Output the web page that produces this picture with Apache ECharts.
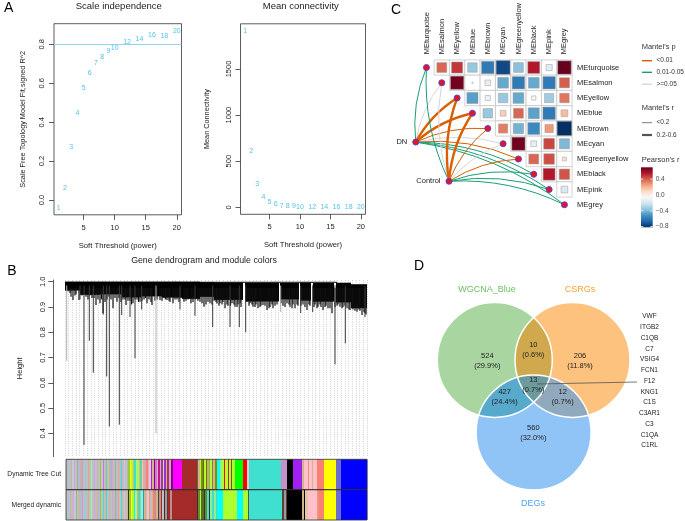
<!DOCTYPE html>
<html><head><meta charset="utf-8">
<script src="https://cdn.jsdelivr.net/npm/echarts@6/dist/echarts.min.js"></script>
<style>html,body{margin:0;padding:0;background:#fff}#c{width:685px;height:521px}</style>
</head><body><div id="c"></div>
<script>
// ---------------- DATA ----------------
// Panel A: soft-threshold analysis
const powers = [1,2,3,4,5,6,7,8,9,10,12,14,16,18,20];
const sftR2  = [-0.043,0.063,0.27,0.448,0.573,0.651,0.704,0.735,0.764,0.783,0.814,0.829,0.848,0.845,0.868];
const meanK  = [1914,615,250,109,58,30,18,12,8,6,3,2,1,0.7,0.5];
const r2Cutoff = 0.8;
const xTicksA = [5,10,15,20];
const yTicksR2 = [0,0.2,0.4,0.6,0.8];
const yTicksK = [0,500,1000,1500];

// Panel B: dendrogram (leaf index 0..302), heights
const dendroBlocks = [ // [fromLeaf, toLeaf, lowerHeight, upperHeight]
 [0,272,0.996,1.0],[0,15,0.965,1.0],[15,35,0.948,1.0],[35,57,0.95,1.0],[57,77,0.938,1.0],[77,97,0.942,1.0],
 [97,117,0.937,1.0],[117,135,0.932,1.0],[135,149,0.94,0.998],[149,178,0.928,0.997],[180,214,0.922,0.996],
 [215,234,0.93,0.995],[235,246,0.925,0.996],[248,269,0.921,0.995],[271,286,0.918,0.996],[286,302,0.895,0.99]];
const dendroStreaks = [ // [leaf, height]
 [1,0.965],[3,0.962],[5,0.955],[6,0.94],[8,0.928],[10,0.945],[11,0.95],[14,0.928],[17,0.945],[19.5,0.95],[21,0.94],[23,0.93],
 [25,0.945],[27,0.935],[29,0.935],[31,0.908],[33,0.93],[35,0.915],[36.5,0.93],[38,0.875],[40,0.92],[42,0.93],[44,0.94],
 [46,0.93],[48,0.895],[50,0.935],[52,0.921],[54,0.935],[56,0.92],[58,0.93],[60,0.93],[61,0.908],[63,0.925],[65,0.925],
 [66.5,0.91],[68,0.915],[70,0.93],[72,0.93],[73.5,0.92],[75,0.921],[77,0.925],[79,0.93],[80.5,0.935],[82,0.915],[84,0.93],
 [86,0.92],[87,0.908],[90,0.925],[92,0.93],[95,0.928],[97,0.925],[99,0.935],[100.5,0.93],[102,0.928],[104,0.925],[105,0.92],
 [108,0.915],[110,0.93],[112,0.93],[114,0.92],[116,0.935],[119,0.921],[121,0.925],[123,0.93],[126,0.915],[128,0.92],
 [130.5,0.93],[133,0.925],[135,0.921],[137,0.915],[139,0.901],[141,0.91],[143,0.921],[145,0.915],[147,0.91],[149,0.925],
 [151,0.92],[152,0.914],[154,0.905],[155,0.915],[157,0.91],[158,0.92],[160,0.895],[162,0.91],[163,0.905],[165.5,0.905],
 [167,0.915],[169,0.91],[170,0.901],[172,0.9],[173,0.91],[175,0.915],[176,0.9],[182,0.92],[184,0.905],[185,0.915],[187,0.91],
 [188,0.901],[190,0.9],[191,0.91],[193,0.895],[195,0.9],[196,0.905],[198,0.908],[200,0.905],[202,0.888],[204,0.895],[205,0.9],
 [207,0.91],[208,0.895],[210,0.905],[212,0.91],[216,0.915],[218,0.905],[220,0.9],[222,0.915],[224,0.91],[225,0.901],[227,0.895],
 [228,0.91],[230,0.895],[232,0.91],[233,0.905],[236,0.905],[238,0.91],[240,0.9],[242,0.888],[244,0.91],[245,0.905],[249,0.9],
 [250,0.91],[252,0.895],[253,0.901],[255,0.91],[256,0.9],[258,0.888],[260,0.9],[261,0.905],[263,0.895],[265,0.895],[267,0.875],
 [270,0.9],[272,0.905],[273,0.91],[275,0.901],[277,0.895],[278,0.9],[280,0.905],[282,0.895],[284,0.89],[285,0.888],[287,0.895],
 [288,0.89],[290,0.885],[292,0.881],[294,0.89],[295,0.885],[297,0.868],[299,0.88],[300,0.875],[301,0.87]];
const dendroSpikes = [ // [leaf, height, grey?]
 [1.7,0.687,1],[15,0.93,0],[19,0.354,0],[24.3,0.766,0],[28.3,0.64,0],[38.3,0.87,0],[41.7,0.625,0],[44.3,0.427,0],
 [54.3,0.434,0],[56.7,0.868,0],[65,0.86,0],[70,0.697,0],[76.7,0.89,0],[91,0.40,1],[115,0.89,0],[130,0.865,0],
 [147.7,0.82,0],[165,0.82,0],[174.3,0.82,0],[180.7,0.80,0],[215.7,0.88,1],[235.7,0.876,0],[247.7,0.88,0],
 [270,0.673,0],[280.3,0.756,0],[300,0.86,0]];
const dendroTicks = [0.4,0.5,0.6,0.7,0.8,0.9,1.0];
const colorRows = ['Dynamic Tree Cut','Merged dynamic'];
const dynamicColors = [
 [1,4,'#bebebe'],[4,6,'#b0c4de'],[6,7,'#d2b48c'],[7,9,'#c6c6dc'],[9,10,'#dda0dd'],[10,12,'#c0c0c0'],[12,13,'#8fbc8f'],[13,15,'#b8b8d0'],
 [15,16,'#d2b48c'],[16,18,'#c8a2c8'],[18,20,'#bebebe'],[20,21,'#87ceeb'],[21,23,'#c0c0c0'],[23,24,'#f4a460'],[24,26,'#b8b8d8'],
 [26,27,'#98fb98'],[27,29,'#bebebe'],[29,30,'#dda0dd'],[30,32,'#b0c4de'],[32,33,'#d2b48c'],[33,35,'#c0c0c0'],[35,36,'#9acd32'],
 [36,38,'#bfbfd8'],[38,39,'#da70d6'],[39,41,'#bebebe'],[41,42,'#66cdaa'],[42,44,'#c0c0c0'],[44,45,'#d2b48c'],[45,47,'#b0b0d0'],
 [47,48,'#dda0dd'],[48,50,'#bebebe'],[50,51,'#8fbc8f'],[51,53,'#c0c0c0'],[53,54,'#ffa07a'],[54,56,'#b8b8d8'],[56,57,'#40e0d0'],
 [57,59,'#bebebe'],[59,60,'#d8bfd8'],[60,62,'#b0c4de'],[62,63,'#d2b48c'],
 [63,65,'#9acd32'],[65,66,'#ffff00'],[66,68,'#adff2f'],[68,69,'#d2b48c'],[69,71,'#40e0d0'],[71,72,'#98fb98'],[72,74,'#adff2f'],
 [74,75,'#bebebe'],[75,77,'#66cdaa'],[77,78,'#ffc0cb'],[78,80,'#d2b48c'],[80,81,'#dda0dd'],[81,83,'#fa8072'],[83,84,'#c0c0c0'],
 [84,86,'#ffc0cb'],[86,87,'#a020f0'],[87,89,'#d2b48c'],[89,90,'#8b008b'],[90,92,'#da70d6'],[92,93,'#bebebe'],[93,95,'#c71585'],
 [95,96,'#dda0dd'],[96,98,'#8b4789'],[98,99,'#ffc0cb'],[99,101,'#9932cc'],[101,102,'#d2b48c'],[102,104,'#b03060'],[104,106,'#c8a2c8'],
 [106,108,'#8b008b'],[108,117,'#ff00ff'],[117,132,'#a52a2a'],
 [132,133,'#556b2f'],[133,135,'#d2b48c'],[135,136,'#adff2f'],[136,138,'#8b8b00'],[138,139,'#556b2f'],[139,141,'#adff2f'],
 [141,142,'#a0522d'],[142,144,'#9acd32'],[144,145,'#bc8f8f'],[145,147,'#adff2f'],[147,148,'#8b7d3a'],[148,150,'#d2b48c'],[150,152,'#8b8b00'],
 [152,155,'#00ffff'],[155,157,'#90ee90'],[157,159,'#adff2f'],[159,160,'#ff0000'],[160,163,'#adff2f'],[163,164,'#a52a2a'],
 [164,166,'#adff2f'],[166,167,'#8b4513'],[167,170,'#adff2f'],[170,178,'#00ff00'],[178,182,'#ff0000'],[182,184,'#d3d3d3'],
 [184,216,'#40e0d0'],[216,222,'#c890c8'],[222,228,'#000000'],[228,237,'#a020f0'],[237,239,'#d2b48c'],[239,243,'#ffc0cb'],
 [243,244,'#e9967a'],[244,247,'#ffc0cb'],[247,248,'#d2b48c'],[248,252,'#ffc0cb'],[252,259,'#fa8072'],[259,271,'#ffff00'],
 [271,276,'#6a6ad0'],[276,302,'#0000ff']];
const mergedColors = [
 [1,3,'#c0c0c0'],[3,5,'#b0c4de'],[5,6,'#d2b48c'],[6,8,'#bebebe'],[8,9,'#dda0dd'],[9,11,'#c6c6dc'],[11,12,'#8fbc8f'],[12,14,'#bebebe'],
 [14,15,'#d2b48c'],[15,17,'#b8b8d0'],[17,18,'#c8a2c8'],[18,20,'#c0c0c0'],[20,21,'#87ceeb'],[21,23,'#bebebe'],[23,24,'#f4a460'],
 [24,26,'#b0c4de'],[26,27,'#98fb98'],[27,29,'#c0c0c0'],[29,30,'#dda0dd'],[30,32,'#bebebe'],[32,33,'#d2b48c'],[33,35,'#b8b8d8'],
 [35,36,'#9acd32'],[36,38,'#c0c0c0'],[38,39,'#40e0d0'],[39,41,'#bebebe'],[41,42,'#66cdaa'],[42,44,'#b0c4de'],[44,45,'#d2b48c'],
 [45,47,'#c0c0c0'],[47,48,'#dda0dd'],[48,50,'#bebebe'],[50,51,'#8fbc8f'],[51,53,'#b8b8d0'],[53,54,'#ffa07a'],[54,56,'#c0c0c0'],
 [56,57,'#40e0d0'],[57,59,'#bebebe'],[59,60,'#d8bfd8'],[60,62,'#c0c0c0'],[62,63,'#d2b48c'],
 [63,64,'#333333'],[64,66,'#9acd32'],[66,67,'#ffff00'],[67,69,'#adff2f'],[69,70,'#40e0d0'],[70,72,'#98fb98'],[72,73,'#d2b48c'],
 [73,75,'#66cdaa'],[75,76,'#87ceeb'],[76,78,'#98fb98'],[78,79,'#1e90ff'],[79,81,'#d2b48c'],[81,82,'#bebebe'],[82,84,'#ffc0cb'],
 [84,85,'#e9967a'],[85,87,'#c0c0c0'],[87,88,'#d2b48c'],[88,90,'#fa8072'],[90,91,'#bc8f8f'],[91,93,'#d2b48c'],[93,94,'#444444'],
 [94,96,'#bc8f8f'],[96,97,'#a52a2a'],[97,99,'#c0c0c0'],[99,100,'#333333'],[100,102,'#bc8f8f'],[102,103,'#444444'],[103,105,'#a52a2a'],
 [105,107,'#bc8f8f'],[107,132,'#a52a2a'],
 [132,133,'#333333'],[133,135,'#6b8e23'],[135,136,'#adff2f'],[136,139,'#556b2f'],[139,140,'#333333'],[140,142,'#6b8e23'],
 [142,144,'#40e0d0'],[144,145,'#333333'],[145,147,'#90ee90'],[147,149,'#40e0d0'],[149,151,'#90ee90'],[151,152,'#66cdaa'],
 [152,158,'#00ffff'],[158,172,'#adff2f'],[172,178,'#00ffff'],[178,183,'#adff2f'],[183,184,'#555555'],[184,217,'#40e0d0'],
 [217,219,'#5c4033'],[219,221,'#999999'],[221,222,'#5c4033'],[222,237,'#000000'],[237,239,'#d2b48c'],[239,240,'#000000'],
 [240,243,'#e9c2a6'],[243,252,'#ffc0cb'],[252,254,'#e9967a'],[254,259,'#fa8072'],[259,271,'#ffff00'],[271,276,'#6a6ad0'],[276,302,'#0000ff']];

// Panel C: module eigengene correlations + Mantel tests
const modules = ['MEturquoise','MEsalmon','MEyellow','MEblue','MEbrown','MEcyan','MEgreenyellow','MEblack','MEpink','MEgrey'];
const pearsonR = [ // upper triangle, row i -> columns i+1..9
 [0.38,0.48,-0.35,-0.6,-0.75,-0.38,0.55,-0.15,0.7],
 [0.68,0.005,-0.12,-0.45,-0.6,-0.45,-0.6,0.4],
 [-0.48,-0.1,-0.35,-0.45,-0.07,-0.33,0.35],
 [-0.35,0.13,0.38,-0.47,-0.6,0.18],
 [0.33,-0.42,-0.55,0.27,-0.82],
 [0.68,-0.13,0.45,-0.4],
 [0.38,0.43,0.06],
 [0.55,0.42],
 [-0.18]];
const mantelEnv = ['DN','Control'];
// p class: 'a' <0.01, 'b' 0.01-0.05, 'c' >=0.05 ; r class: 's' <0.2, 'l' 0.2-0.6
const mantelP = {
 DN:      ['b','c','a','a','a','c','a','b','b','b'],
 Control: ['b','c','a','a','a','c','a','b','b','b']};
const mantelR = {
 DN:      ['s','s','l','l','s','s','s','s','s','s'],
 Control: ['s','s','l','l','s','s','s','s','s','s']};
const pLabels = ['<0.01','0.01-0.05','>=0.05'];
const rLabels = ['<0.2','0.2-0.6'];
const cbTicks = [-0.8,-0.4,0,0.4];
const cbRange = [-0.82,0.7];

// Panel D: Venn
const vennSets = ['WGCNA_Blue','CSRGs','DEGs'];
const vennCounts = {G:524, O:206, B:560, GO:10, GB:427, OB:12, GOB:13};
const vennPct = {G:'29.9%', O:'11.8%', B:'32.0%', GO:'0.6%', GB:'24.4%', OB:'0.7%', GOB:'0.7%'};
const hubGenes = ['VWF','ITGB2','C1QB','C7','VSIG4','FCN1','F12','KNG1','C1S','C3AR1','C3','C1QA','C1RL'];

// ---------------- STYLE / LAYOUT ----------------
const FONT = 'Liberation Sans, Arial, sans-serif';
const TXT = '#222';
const RdBu = ['#053061','#2166ac','#4393c3','#92c5de','#d1e5f0','#f7f7f7','#fddbc7','#f4a582','#d6604d','#b2182b','#67001f'];
const pColor = {a:'#D95F02', b:'#1B9E77', c:'#d6d6d6'};
const rWidth = {s:1.0, l:2.4};
const envPos = {DN:[-0.70,4.89], Control:[1.47,7.46]};

function rX(grid,min,max,ticks,name){
  return {type:'value',gridIndex:grid,min,max,
    axisLine:{show:false,onZero:false},splitLine:{show:false},
    axisTick:{show:true,length:5,customValues:ticks,lineStyle:{color:'#333',width:0.8}},
    axisLabel:{customValues:ticks,fontSize:7.5,color:TXT,margin:9,fontFamily:FONT},
    name,nameLocation:'middle',nameGap:27,nameTextStyle:{fontSize:7.7,color:TXT,fontFamily:FONT}};
}
function rY(grid,min,max,ticks,name,fmt,gap){
  return {type:'value',gridIndex:grid,min,max,
    axisLine:{show:false,onZero:false},splitLine:{show:false},
    axisTick:{show:true,length:5,customValues:ticks,lineStyle:{color:'#333',width:0.8}},
    axisLabel:{customValues:ticks,fontSize:7.5,color:TXT,margin:8,rotate:90,fontFamily:FONT,formatter:fmt},
    name,nameLocation:'middle',nameRotate:90,nameGap:gap,nameTextStyle:{fontSize:7.3,color:TXT,fontFamily:FONT}};
}

// heatmap cells
const heatData = [];
pearsonR.forEach((row,i)=>row.forEach((r,k)=>heatData.push([i+1+k, i, r])));
// mantel lines
const lineData = [];
mantelEnv.forEach(e=>{
  modules.forEach((m,i)=>{
    lineData.push({coords:[envPos[e],[i,i]],
      lineStyle:{color:pColor[mantelP[e][i]], width:rWidth[mantelR[e][i]], curveness:0.13, opacity:1}});
  });
});
const nodeData = modules.map((m,i)=>({name:m,value:[i,i]}));
mantelEnv.forEach(e=>nodeData.push({name:e,value:envPos[e],label:{show:true,position:'left',distance:5,formatter:e,fontSize:7.5,color:TXT,fontFamily:FONT}}));

// ---------------- VENN GEOMETRY ----------------
const VC = [{x:494.8,y:359.9,r:57.5},{x:572.5,y:359.9,r:57.5},{x:533.6,y:432.5,r:57.5}];
const setFill = ['#a8d5a0','#fdc27d','#90c4f6'];
function inside(p,c){return (p[0]-c.x)*(p[0]-c.x)+(p[1]-c.y)*(p[1]-c.y) <= c.r*c.r+0.01;}
function region(idx){
  const pts=[];
  idx.forEach(i=>{const c=VC[i];for(let k=0;k<720;k++){const a=k/720*2*Math.PI;const p=[c.x+c.r*Math.cos(a),c.y+c.r*Math.sin(a)];
    if(idx.every(j=>j===i||inside(p,VC[j])))pts.push(p);}});
  let cx=0,cy=0;pts.forEach(p=>{cx+=p[0];cy+=p[1];});cx/=pts.length;cy/=pts.length;
  pts.sort((a,b)=>Math.atan2(a[1]-cy,a[0]-cx)-Math.atan2(b[1]-cy,b[0]-cx));
  return pts;
}
const graphics = [];
function txt(text,x,y,size,opt){
  graphics.push(Object.assign({type:'text',x,y,z:50,silent:true,style:Object.assign({text,fontSize:size,fontFamily:FONT,fill:TXT,align:'center',verticalAlign:'middle'},opt||{})}));
}
VC.forEach((c,i)=>graphics.push({type:'circle',z:1,silent:true,shape:{cx:c.x,cy:c.y,r:c.r},style:{fill:setFill[i]}}));
[[[0,1],'#d0a94e'],[[0,2],'#58aacd'],[[1,2],'#90a9bd'],[[0,1,2],'#6d9b9d']].forEach((d,k)=>{
  graphics.push({type:'polygon',z:2+k,silent:true,shape:{points:region(d[0])},style:{fill:d[1]}});
});
VC.forEach(c=>graphics.push({type:'circle',z:10,silent:true,shape:{cx:c.x,cy:c.y,r:c.r},style:{fill:'none',stroke:'#fff',lineWidth:1.5}}));
const vennLabelPos = {G:[487.3,355.7],GO:[533.3,345],O:[580,355.7],GOB:[533.3,380],GB:[504.7,391.7],OB:[562.7,391.7],B:[533.3,427.7]};
Object.keys(vennLabelPos).forEach(k=>{
  const p=vennLabelPos[k];
  txt(String(vennCounts[k]),p[0],p[1],7.5);
  txt('('+vennPct[k]+')',p[0],p[1]+10,7.5);
});
txt(vennSets[0],487,290,9,{fill:'#6abf5e'});
txt(vennSets[1],580,290,9,{fill:'#f7a035'});
txt(vennSets[2],533,504,9,{fill:'#4ea5f0'});
graphics.push({type:'line',z:40,silent:true,shape:{x1:537,y1:384,x2:637,y2:382},style:{stroke:'#555',lineWidth:0.8}});
hubGenes.forEach((g,i)=>txt(g,649.5,316.7+i*10.75,6.5));

// panel letters & titles
txt('A',8.7,8.5,14,{fill:'#000'});
txt('B',12,271,14,{fill:'#000'});
txt('C',396,10,14,{fill:'#000'});
txt('D',419,265.7,14,{fill:'#000'});
txt('Scale independence',118.8,6,9.5);
txt('Mean connectivity',300.8,6,9.5);
txt('Gene dendrogram and module colors',204,261,8.8);
// C legends
const LX=641.7;
txt("Mantel's p",LX,46.7,7.5,{align:'left',fill:'#333'});
pLabels.forEach((l,i)=>{
  const y=[60.7,72.3,84.2][i];
  graphics.push({type:'line',z:40,silent:true,shape:{x1:642,y1:y,x2:652,y2:y},style:{stroke:pColor['abc'[i]],lineWidth:1.4}});
  txt(l,656.5,y,6.5,{align:'left',fill:'#333'});
});
txt("Mantel's r",LX,108.3,7.5,{align:'left',fill:'#333'});
rLabels.forEach((l,i)=>{
  const y=[122.7,135][i];
  graphics.push({type:'line',z:40,silent:true,shape:{x1:642,y1:y,x2:652,y2:y},style:{stroke:'#555',lineWidth:[0.8,2.2][i]}});
  txt(l,656.5,y,6.5,{align:'left',fill:'#333'});
});
txt("Pearson's r",LX,160,7.5,{align:'left',fill:'#333'});

// ---------------- CHART ----------------
const chart = echarts.init(document.getElementById('c'), null, {renderer:'canvas'});
const option = {
  animation:false,
  backgroundColor:'#fff',
  textStyle:{fontFamily:FONT},
  grid:[
    {left:54,top:23.7,width:127.5,height:191.1,show:true,borderColor:'#333',borderWidth:0.8,backgroundColor:'transparent'},
    {left:240.5,top:23.8,width:125,height:190.5,show:true,borderColor:'#333',borderWidth:0.8,backgroundColor:'transparent'},
    {left:65,top:280,width:302,height:176.7},
    {left:65,top:459.3,width:302,height:60.7},
    {left:395.8,top:51.4,width:176.3,height:168.6},
    {left:641,top:167.3,width:11.7,height:60}
  ],
  xAxis:[
    rX(0,0.24,20.76,xTicksA,'Soft Threshold (power)'),
    rX(1,0.24,20.76,xTicksA,'Soft Threshold (power)'),
    {type:'value',gridIndex:2,min:0,max:302,interval:302/82,axisLine:{show:false,onZero:false},axisTick:{show:false},axisLabel:{show:false},
      splitLine:{show:true,lineStyle:{color:'#c4c4c4',width:0.8,type:[1,1.3]}}},
    {type:'value',gridIndex:3,min:0,max:302,show:false,axisLine:{onZero:false}},
    {type:'value',gridIndex:4,min:-2,max:9.5,interval:1,position:'top',offset:-2,axisLine:{show:false},axisTick:{show:false},splitLine:{show:false},
      axisLabel:{rotate:90,margin:0,fontSize:7.5,color:TXT,fontFamily:FONT,formatter:v=>modules[v]||''}},
    {type:'value',gridIndex:5,min:0,max:1,show:false,axisLine:{onZero:false}}
  ],
  yAxis:[
    rY(0,-0.076,0.906,yTicksR2,'Scale Free Topology Model Fit,signed R^2',v=>v.toFixed(1),28),
    rY(1,-76,1990,yTicksK,'Mean Connectivity',v=>String(v),30),
    {type:'value',gridIndex:2,min:0.3075,max:1.0067,offset:11.7,splitLine:{show:false},
      axisLine:{show:true,onZero:false,lineStyle:{color:'#333',width:0.8}},
      axisTick:{show:true,length:5,customValues:dendroTicks,lineStyle:{color:'#333',width:0.8}},
      axisLabel:{customValues:dendroTicks,rotate:90,fontSize:7.5,color:TXT,margin:6,fontFamily:FONT,formatter:v=>v.toFixed(1)},
      name:'Height',nameLocation:'middle',nameRotate:90,nameGap:29,nameTextStyle:{fontSize:7.5,color:TXT,fontFamily:FONT}},
    {type:'category',gridIndex:3,data:colorRows,inverse:true,axisLine:{show:false,onZero:false},axisTick:{show:false},
      axisLabel:{fontSize:6.7,color:TXT,margin:4,fontFamily:FONT}},
    {type:'value',gridIndex:4,min:-1,max:10,interval:1,inverse:true,position:'right',axisLine:{show:false},axisTick:{show:false},splitLine:{show:false},
      axisLabel:{margin:5,fontSize:7.5,color:TXT,fontFamily:FONT,formatter:v=>modules[v]||''}},
    {type:'value',gridIndex:5,min:cbRange[0],max:cbRange[1],position:'right',axisLine:{show:false,onZero:false},axisTick:{show:false},splitLine:{show:false},
      axisLabel:{customValues:cbTicks,margin:3,fontSize:6.5,color:'#444',fontFamily:FONT,formatter:v=>(v<0?'\u2212':'')+Math.abs(v).toFixed(1)}}
  ],
  visualMap:[{type:'continuous',show:false,seriesIndex:7,dimension:2,min:cbRange[0],max:cbRange[1],inRange:{color:RdBu}}],
  graphic:{elements:graphics},
  series:[
    {type:'scatter',xAxisIndex:0,yAxisIndex:0,symbolSize:1,itemStyle:{color:'rgba(0,0,0,0)'},
      data:powers.map((p,i)=>[p,sftR2[i]]),
      label:{show:true,position:'inside',formatter:d=>d.value[0],fontSize:7,color:'#2bb0e6',fontFamily:FONT},
      markLine:{silent:true,symbol:'none',label:{show:false},lineStyle:{color:'#8fd3ef',type:'solid',width:1},data:[{yAxis:r2Cutoff}]}},
    {type:'scatter',xAxisIndex:1,yAxisIndex:1,symbolSize:1,itemStyle:{color:'rgba(0,0,0,0)'},
      data:powers.map((p,i)=>[p,meanK[i]]),
      label:{show:true,position:'inside',formatter:d=>d.value[0],fontSize:7,color:'#2bb0e6',fontFamily:FONT}},
    {type:'custom',xAxisIndex:2,yAxisIndex:2,data:dendroBlocks,z:3,
      renderItem:(p,api)=>{const a=api.coord([api.value(0),api.value(3)]),b=api.coord([api.value(1),api.value(2)]);
        return {type:'rect',shape:{x:a[0],y:a[1],width:b[0]-a[0],height:Math.max(0.8,b[1]-a[1])},style:{fill:'#000'}};}},
    {type:'custom',xAxisIndex:2,yAxisIndex:2,data:dendroStreaks,z:3,
      renderItem:(p,api)=>{const a=api.coord([api.value(0),0.975]),b=api.coord([api.value(0),api.value(1)]);
        return {type:'line',shape:{x1:a[0],y1:a[1],x2:b[0],y2:b[1]},style:{stroke:'#111',lineWidth:1.2}};}},
    {type:'custom',xAxisIndex:2,yAxisIndex:2,data:dendroSpikes,z:3,
      renderItem:(p,api)=>{const a=api.coord([api.value(0),0.985]),b=api.coord([api.value(0),api.value(1)]);
        return {type:'line',shape:{x1:a[0],y1:a[1],x2:b[0],y2:b[1]},style:{stroke:api.value(2)?'#b0b0b0':'#3a3a3a',lineWidth:1}};}},
    {type:'custom',xAxisIndex:3,yAxisIndex:3,z:3,
      data:dynamicColors.map(d=>[d[0],d[1],0,d[2]]).concat(mergedColors.map(d=>[d[0],d[1],1,d[2]])),
      renderItem:(p,api)=>{const a=api.coord([api.value(0),api.value(2)]),b=api.coord([api.value(1),api.value(2)]);
        const h=Math.abs(api.size([0,1])[1]);
        return {type:'rect',shape:{x:a[0],y:a[1]-h/2,width:b[0]-a[0]+0.3,height:h},style:{fill:api.value(3)}};},
      encode:{x:[0,1],y:2}},
    {type:'custom',xAxisIndex:3,yAxisIndex:3,z:4,data:[[0],[1]],
      renderItem:(p,api)=>{const a=api.coord([1,api.value(0)]),b=api.coord([302,api.value(0)]);
        const h=Math.abs(api.size([0,1])[1]);
        return {type:'rect',shape:{x:a[0],y:a[1]-h/2,width:b[0]-a[0],height:h},style:{fill:'none',stroke:'#2b2b2b',lineWidth:0.8}};},
      encode:{y:0}},
    {type:'custom',xAxisIndex:4,yAxisIndex:4,z:2,data:heatData,
      renderItem:(p,api)=>{const c=api.coord([api.value(0),api.value(1)]);const s=api.size([1,1]);
        const w=Math.abs(s[0]),h=Math.abs(s[1]);const r=api.value(2);
        const f=Math.min(0.95,0.95*Math.sqrt(Math.abs(r)/0.82));
        return {type:'group',children:[
          {type:'rect',shape:{x:c[0]-w/2,y:c[1]-h/2,width:w,height:h},style:{fill:'#fff',stroke:'#c8c8c8',lineWidth:0.8}},
          {type:'rect',shape:{x:c[0]-w*f/2,y:c[1]-h*f/2,width:w*f,height:h*f},style:{fill:api.visual('color'),stroke:'#9a9a9a',lineWidth:0.5}}]};},
      encode:{x:0,y:1}},
    {type:'lines',coordinateSystem:'cartesian2d',xAxisIndex:4,yAxisIndex:4,z:3,silent:true,polyline:false,data:lineData},
    {type:'scatter',xAxisIndex:4,yAxisIndex:4,z:4,symbolSize:6,data:nodeData,
      itemStyle:{color:'#e8141c',borderColor:'#5b3fd6',borderWidth:1,opacity:1}},
    {type:'custom',xAxisIndex:5,yAxisIndex:5,z:3,data:[[0]],
      renderItem:(p,api)=>{const cs=p.coordSys;
        const stops=RdBu.slice().reverse().map((c,i,arr)=>({offset:i/(arr.length-1),color:c}));
        const ch=[{type:'rect',shape:{x:cs.x,y:cs.y,width:cs.width,height:cs.height},style:{fill:{type:'linear',x:0,y:0,x2:0,y2:1,colorStops:stops}}}];
        cbTicks.forEach(t=>{const yy=api.coord([0,t])[1];
          ch.push({type:'line',shape:{x1:cs.x,y1:yy,x2:cs.x+2.3,y2:yy},style:{stroke:'#fff',lineWidth:0.8}});
          ch.push({type:'line',shape:{x1:cs.x+cs.width-2.3,y1:yy,x2:cs.x+cs.width,y2:yy},style:{stroke:'#fff',lineWidth:0.8}});});
        return {type:'group',children:ch};}}
  ]
};
chart.setOption(option);
</script></body></html>
